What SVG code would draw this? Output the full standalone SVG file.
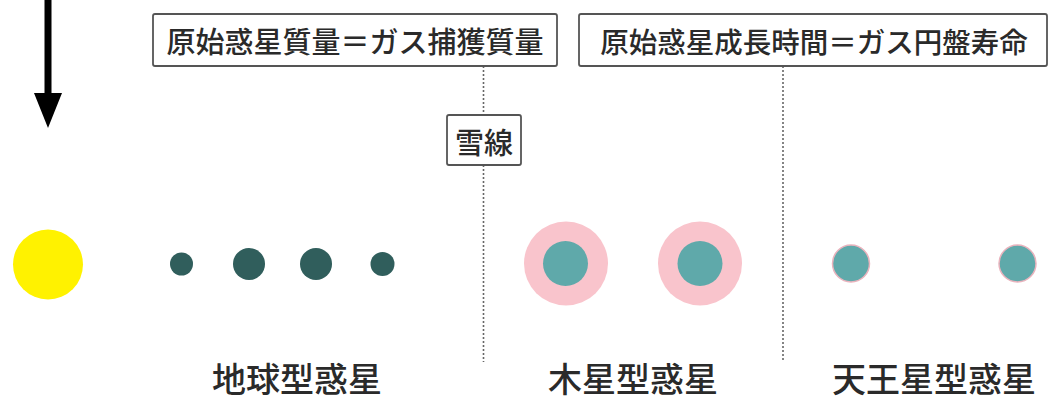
<svg xmlns="http://www.w3.org/2000/svg" width="1052" height="400" viewBox="0 0 1052 400">
  <style>
    .box { fill: #ffffff; stroke: #555555; stroke-width: 1.8; }
    .t { font-family: "Noto Sans CJK JP", "Noto Sans", sans-serif; font-weight: 500; fill: #2a2a2a; text-anchor: middle; dominant-baseline: central; }
    .dot { stroke: #666666; stroke-width: 1.6; stroke-dasharray: 2 2; fill: none; }
    .rock { fill: #305e5c; }
    .core { fill: #5fa9aa; }
    .env { fill: #f9c4cc; }
    .ice { fill: #5fa9aa; stroke: #e9b3bd; stroke-width: 1.5; }
  </style>
  <rect width="1052" height="400" fill="#ffffff"/>

  <g id="connectors">
    <line class="dot" x1="483.5" y1="66" x2="483.5" y2="115"/>
    <line class="dot" x1="483.5" y1="165" x2="483.5" y2="362"/>
    <line class="dot" x1="783" y1="66" x2="783" y2="362"/>
  </g>

  <g id="arrow">
    <rect x="44.5" y="0" width="7" height="96" fill="#000000"/>
    <polygon points="34,93 62,93 48,128" fill="#000000"/>
  </g>

  <g id="box-mass">
    <rect class="box" x="153" y="14" width="404" height="52" rx="2"/>
    <text class="t" x="355" y="40" font-size="29">原始惑星質量＝ガス捕獲質量</text>
  </g>

  <g id="box-time">
    <rect class="box" x="579" y="14" width="468" height="52" rx="2"/>
    <text class="t" x="814" y="40" font-size="28.5">原始惑星成長時間＝ガス円盤寿命</text>
  </g>

  <g id="box-snowline">
    <rect class="box" x="447" y="115" width="74" height="50" rx="2"/>
    <text class="t" x="484" y="140.5" font-size="29">雪線</text>
  </g>

  <g id="sun">
    <circle cx="48" cy="264.5" r="35" fill="#fff200"/>
  </g>

  <g id="terrestrial">
    <circle class="rock" cx="181.5" cy="264" r="11.5"/>
    <circle class="rock" cx="249" cy="264" r="16"/>
    <circle class="rock" cx="316" cy="264" r="16"/>
    <circle class="rock" cx="382.5" cy="264" r="12"/>
    <text class="t" x="297" y="377" font-size="34">地球型惑星</text>
  </g>

  <g id="jovian">
    <circle class="env" cx="566" cy="263.5" r="42"/>
    <circle class="core" cx="565.5" cy="263.5" r="22.5"/>
    <circle class="env" cx="700" cy="263.5" r="42"/>
    <circle class="core" cx="700" cy="263.5" r="22.5"/>
    <text class="t" x="633" y="377" font-size="34">木星型惑星</text>
  </g>

  <g id="uranian">
    <circle class="ice" cx="851" cy="263.5" r="18.5"/>
    <circle class="ice" cx="1017.5" cy="263.5" r="18.5"/>
    <text class="t" x="934" y="377" font-size="34">天王星型惑星</text>
  </g>
</svg>
